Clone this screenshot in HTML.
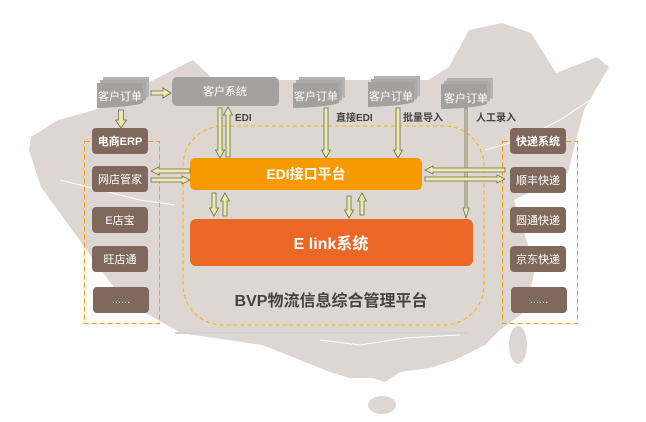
<!DOCTYPE html>
<html><head><meta charset="utf-8"><style>
html,body{margin:0;padding:0;background:#fff;}
svg{display:block;}
text{font-family:"Liberation Sans","Noto Sans CJK SC",sans-serif;}
</style></head><body>
<svg width="646" height="422" viewBox="0 0 646 422" xmlns="http://www.w3.org/2000/svg">
<defs>
<g id="stk">
<path d="M6,0 H52 V20 Q40,24 6,24 Z" fill="#b5b3b2"/>
<path d="M3,3 H49 V23 Q37,27 3,27 Z" fill="#acaaa9"/>
<path d="M0,6 H46 V26 Q34,30 0,31 Z" fill="#a3a1a0"/>
</g>
</defs>
<!-- map -->
<polygon fill="#ddd6d2" points="31,137 58,120 95,110 173,70 193,60 214,80 288,80 428,80 449,67 469,30 502,23 531,33 556,73 597,57 609,67 584,110 576,140 568,173 514,200 535,267 527,310 500,330 485,345 455,360 430,368 400,372 385,382 372,378 350,378 330,372 300,360 275,350 262,345 181,333 123,300 70,227 41,187 29,150"/>
<ellipse cx="382" cy="405" rx="14" ry="9" fill="#ddd6d2"/>
<ellipse cx="518" cy="345" rx="9" ry="19" fill="#ddd6d2"/>
<polyline fill="none" stroke="#fff" stroke-width="1" points="60,180 100,190 140,200 175,205"/>
<polyline fill="none" stroke="#fff" stroke-width="1" points="485,150 520,140 560,120 590,100"/>
<polyline fill="none" stroke="#fff" stroke-width="1" points="320,340 360,345 405,338 460,335"/>
<line x1="175" y1="333" x2="468" y2="333" stroke="#d2d2d2" stroke-width="2"/>

<!-- main platform -->
<rect x="183" y="126" width="301" height="199" rx="40" fill="#ddd6d1" stroke="#f5b800" stroke-width="1" stroke-dasharray="4,3"/>
<rect x="190" y="158" width="232" height="32" rx="5" fill="#f79a00"/>
<text x="306" y="179" text-anchor="middle" fill="#fff" font-size="14" font-weight="bold">EDI接口平台</text>
<rect x="190" y="219" width="283" height="47" rx="6" fill="#eb6726"/>
<text x="331" y="249" text-anchor="middle" fill="#fff" font-size="16" font-weight="bold">E link系统</text>
<text x="331" y="306" text-anchor="middle" fill="#444" font-size="16" font-weight="bold">BVP物流信息综合管理平台</text>

<!-- side dashed boxes -->
<rect x="84.5" y="141.5" width="75" height="182" fill="none" stroke="#f59a00" stroke-dasharray="5,3"/>
<rect x="502.5" y="141.5" width="75" height="182" fill="none" stroke="#f59a00" stroke-dasharray="5,3"/>
<g fill="#80685c">
<rect x="92" y="128" width="56" height="26" rx="4"/>
<rect x="92" y="166" width="56" height="26" rx="4"/>
<rect x="92" y="207" width="56" height="26" rx="4"/>
<rect x="92" y="246" width="56" height="26" rx="4"/>
<rect x="93" y="287" width="56" height="26" rx="4"/>
<rect x="510" y="128" width="56" height="26" rx="4"/>
<rect x="510" y="167" width="56" height="26" rx="4"/>
<rect x="510" y="207" width="56" height="26" rx="4"/>
<rect x="510" y="246" width="56" height="26" rx="4"/>
<rect x="511" y="287" width="56" height="26" rx="4"/>
</g>
<g fill="#fff" font-size="11" text-anchor="middle">
<text x="120" y="145" font-weight="bold">电商ERP</text>
<text x="120" y="183">网店管家</text>
<text x="120" y="224">E店宝</text>
<text x="120" y="263">旺店通</text>
<text x="121" y="303">......</text>
<text x="538" y="145" font-weight="bold">快递系统</text>
<text x="538" y="184">顺丰快递</text>
<text x="538" y="224">圆通快递</text>
<text x="538" y="263">京东快递</text>
<text x="539" y="303">......</text>
</g>

<!-- top sources -->
<use href="#stk" x="97" y="77"/>
<use href="#stk" x="293" y="77"/>
<use href="#stk" x="368" y="76"/>
<use href="#stk" x="441" y="78"/>
<rect x="172" y="77" width="107" height="29" rx="5" fill="#a4a2a1"/>
<g fill="#fff" font-size="11" text-anchor="middle">
<text x="120" y="100">客户订单</text>
<text x="225" y="95">客户系统</text>
<text x="316" y="100">客户订单</text>
<text x="391" y="100">客户订单</text>
<text x="466" y="102">客户订单</text>
</g>
<g fill="#444" font-size="10" font-weight="bold">
<text x="235" y="121">EDI</text>
<text x="336" y="121">直接EDI</text>
<text x="403" y="121">批量导入</text>
<text x="476" y="121">人工录入</text>
</g>

<!-- arrows -->
<g fill="#eeeaa8" stroke="#6b6b5a" stroke-width="0.8">
<path d="M118.5,110 h5 v10 h3 l-5.5,8 l-5.5,-8 h3 z"/>
<path d="M151,91 h12 v-3 l8,5 l-8,5 v-3 h-12 z"/>
<path d="M218,108 h4 v42 h2.5 l-4.5,8 l-4.5,-8 h2.5 z"/>
<path d="M226,157 h4 v-42 h2.5 l-4.5,-8 l-4.5,8 h2.5 z"/>
<path d="M324,108 h4 v42 h2.5 l-4.5,8 l-4.5,-8 h2.5 z"/>
<path d="M396,108 h4 v42 h2.5 l-4.5,8 l-4.5,-8 h2.5 z"/>
<path d="M465,108 h2 v100 h2 l-3,10 l-3,-10 h2 z"/>
<path d="M212,193 h4 v15 h2.5 l-4.5,8 l-4.5,-8 h2.5 z"/>
<path d="M223,216 h4 v-15 h2.5 l-4.5,-8 l-4.5,8 h2.5 z"/>
<path d="M347,196 h4 v14 h2.5 l-4.5,8 l-4.5,-8 h2.5 z"/>
<path d="M360,215 h4 v-14 h2.5 l-4.5,-8 l-4.5,8 h2.5 z"/>
<path d="M190,169 v4 h-31 v2 l-8,-4 l8,-4 v2 z"/>
<path d="M151,178 v4 h31 v2 l8,-4 l-8,-4 v2 z"/>
<path d="M505,168 v4 h-72 v2 l-8,-4 l8,-4 v2 z"/>
<path d="M425,177 v4 h72 v2 l8,-4 l-8,-4 v2 z"/>
</g>
</svg>
</body></html>
